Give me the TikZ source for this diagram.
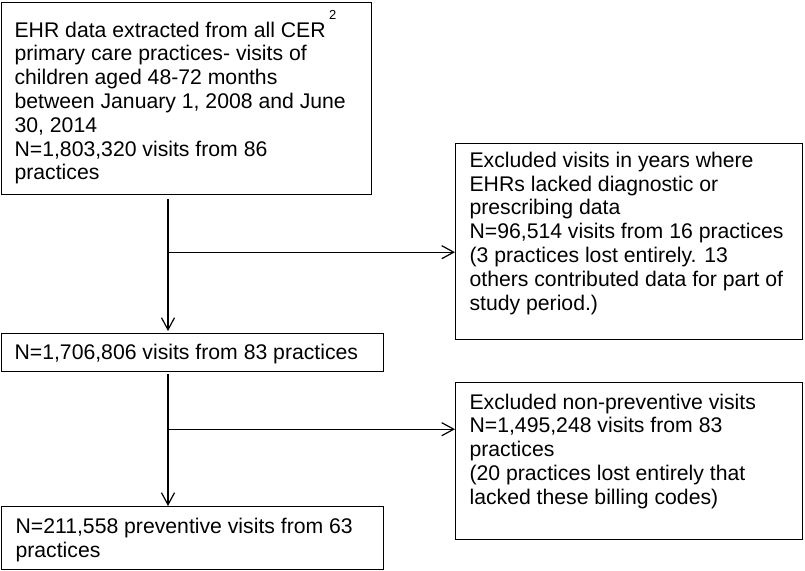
\documentclass[tikz,border=0pt]{standalone}
\usepackage{fontspec}
\setmainfont{Liberation Sans}
\usetikzlibrary{arrows.meta,calc}
\newcommand\fcbox[5]{\parbox[c][#2][t]{#1}{\raggedright\leftskip=#4\relax\rule{0pt}{#3}#5}}
\begin{document}
\begin{tikzpicture}[x=1pt,y=-1pt,
  flowbox/.style={draw, line width=1.2pt, inner sep=0pt, anchor=north west,
    font=\fontsize{21.2}{23.8}\selectfont},
  arr/.style={line width=1.2pt, -{Straight Barb[length=12pt,width=13pt]}}]
\useasboundingbox (0,0) rectangle (805,570);
\node[flowbox] (a) at (1,2) {\fcbox{370pt}{192pt}{34.5pt}{13pt}{EHR data extracted from all CER\,\raisebox{18pt}{\fontsize{13}{13}\selectfont 2}\\
primary care practices- visits of\\
children aged 48-72 months\\
between January 1, 2008 and June\\
30, 2014\\
N=1,803,320 visits from 86\\
practices}};
\node[flowbox] (b) at (455,143) {\fcbox{347pt}{196pt}{23.7pt}{14pt}{Excluded visits in years where\\
EHRs lacked diagnostic or\\
prescribing data\\
N=96,514 visits from 16 practices\\
(3 practices lost entirely. 13\\
others contributed data for part of\\
study period.)}};
\node[flowbox] (c) at (1,333) {\fcbox{382pt}{38pt}{26pt}{13pt}{N=1,706,806 visits from 83 practices}};
\node[flowbox] (d) at (455,382) {\fcbox{347pt}{157pt}{26.5pt}{14pt}{Excluded non-preventive visits\\
N=1,495,248 visits from 83\\
practices\\
(20 practices lost entirely that\\
lacked these billing codes)}};
\node[flowbox] (e) at (1,506) {\fcbox{382pt}{63pt}{27pt}{14pt}{N=211,558 preventive visits from 63\\
practices}};
\coordinate (s1) at ($(a.south west)+(167,4)$);
\coordinate (m1) at ($(a.south west)+(167,57)$);
\draw[arr, shorten >=2pt] (s1) -- (s1 |- c.north);
\draw[arr] (m1) -- (m1 -| b.west);
\coordinate (s2) at ($(c.south west)+(167,2)$);
\coordinate (m2) at ($(c.south west)+(167,57)$);
\draw[arr] (s2) -- (s2 |- e.north);
\draw[arr] (m2) -- (m2 -| d.west);
\end{tikzpicture}
\end{document}
